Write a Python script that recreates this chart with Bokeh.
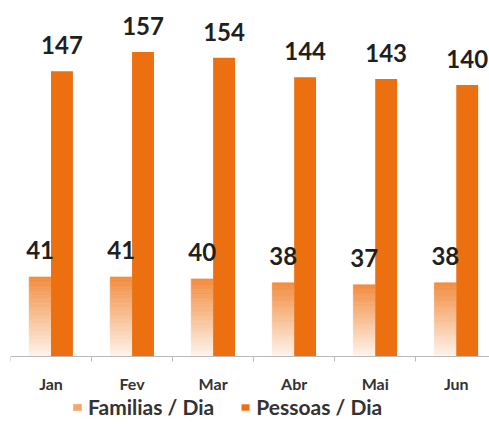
from bokeh.plotting import figure
from bokeh.models import (ColumnDataSource, FixedTicker, CustomJSTickFormatter,
                          Legend, LegendItem, Range1d)
from bokeh.core.properties import value
from bokeh.embed import file_html
from bokeh.resources import INLINE

months = ["Jan", "Fev", "Mar", "Abr", "Mai", "Jun"]
familias = [41, 41, 40, 38, 37, 38]
pessoas = [147, 157, 154, 144, 143, 140]
series_names = ["Familias / Dia", "Pessoas / Dia"]

PESSOAS_COLOR = "#EC700F"
GRAD_TOP = (243, 140, 62)
GRAD_BOTTOM = (253, 245, 238)
N_SLICES = 30
BAR_W = 0.27
FONT = "Lato"

FRAME_H = 419
PX_PER_UNIT = 1.94
BASE_Y = 356  # pixel row of the value axis zero

xc = [i + 0.5 for i in range(len(months))]
x_fam = [c - BAR_W / 2 for c in xc]
x_pes = [c + BAR_W / 2 for c in xc]

gx, gb, gt, gc = [], [], [], []
for x, v in zip(x_fam, familias):
    for k in range(N_SLICES):
        f = (k + 0.5) / N_SLICES
        r = [int(round(GRAD_BOTTOM[j] + (GRAD_TOP[j] - GRAD_BOTTOM[j]) * f)) for j in range(3)]
        gx.append(x)
        gb.append(v * k / N_SLICES)
        gt.append(v * (k + 1) / N_SLICES)
        gc.append("#%02x%02x%02x" % tuple(r))
grad_src = ColumnDataSource(dict(x=gx, bottom=gb, top=gt, color=gc))

p = figure(frame_width=479, frame_height=FRAME_H, output_backend="svg", toolbar_location=None,
           x_range=Range1d(0, 5.91),
           y_range=Range1d(-(FRAME_H - BASE_Y) / PX_PER_UNIT, BASE_Y / PX_PER_UNIT),
           min_border_left=10, min_border_right=0, min_border_top=0,
           min_border_bottom=0)
p.outline_line_color = None
p.grid.grid_line_color = None
p.yaxis.visible = False

fam_r = p.vbar(x="x", bottom="bottom", top="top", width=BAR_W, fill_color="color",
               line_color="color", line_width=0.6, source=grad_src)
pes_r = p.vbar(x=x_pes, top=pessoas, width=BAR_W, color=PESSOAS_COLOR, line_color=None)

p.text(x=x_fam, y=familias, text=[str(v) for v in familias],
       text_font=value(FONT), text_font_style="bold", text_font_size="24px",
       text_color="#1f1f1f", text_align="center", text_baseline="alphabetic",
       y_offset=-27)
p.text(x=x_pes, y=pessoas, text=[str(v) for v in pessoas],
       text_font=value(FONT), text_font_style="bold", text_font_size="24px",
       text_color="#1f1f1f", text_align="center", text_baseline="alphabetic",
       y_offset=-26)

# category labels under the baseline
p.text(x=xc, y=[0] * len(months), text=months,
       text_font=value(FONT), text_font_style="bold", text_font_size="16px",
       text_color="#333333", text_align="center", text_baseline="middle",
       y_offset=27)

ax = p.xaxis[0]
ax.fixed_location = 0
ax.ticker = FixedTicker(ticks=xc, minor_ticks=list(range(len(months) + 1)))
ax.formatter = CustomJSTickFormatter(code="return '';")
ax.axis_line_color = "#BBBBBB"
ax.major_tick_out = 0
ax.major_tick_in = 0
ax.minor_tick_out = 5
ax.minor_tick_in = 0
ax.minor_tick_line_color = "#BBBBBB"
ax.major_label_text_font_size = "0px"
ax.major_label_standoff = 0

legend = Legend(items=[LegendItem(label=series_names[0], renderers=[fam_r], index=N_SLICES - 8),
                       LegendItem(label=series_names[1], renderers=[pes_r])],
                orientation="horizontal", location=(62, 0),
                label_text_font=FONT, label_text_font_style="bold",
                label_text_font_size="21px", label_text_color="#333333",
                glyph_width=10, glyph_height=8, spacing=26, padding=0, margin=0,
                label_standoff=6, border_line_color=None, background_fill_alpha=0)
p.add_layout(legend, "center")

open("out.html", "w").write(file_html(p, INLINE))
